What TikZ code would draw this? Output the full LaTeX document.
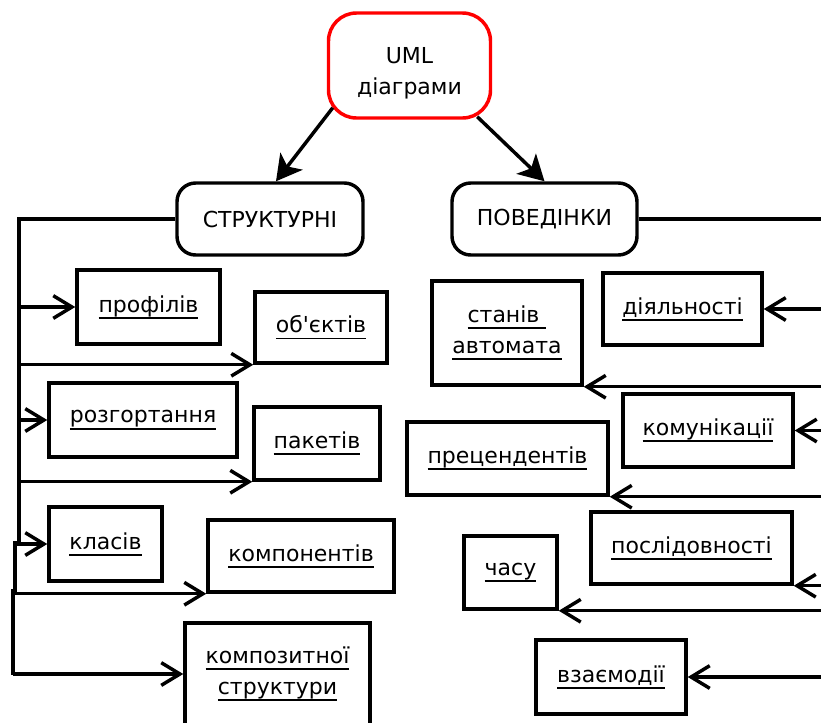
\documentclass[tikz,border=0pt]{standalone}
\usepackage{fontspec}
\setmainfont{DejaVu Sans}[Ligatures=TeXOff]
\usetikzlibrary{arrows.meta,calc}

\newsavebox\lnkbox
\newcommand{\lnk}[1]{\sbox\lnkbox{#1}\rlap{\rule[-5pt]{\wd\lnkbox}{1.4pt}}\usebox\lnkbox}

\tikzset{every picture/.style={line width=0.75pt}}
\tikzset{
	lbl/.style={font=\fontsize{16.5}{23}\selectfont, align=center, inner sep=0pt},
	box/.style={lbl, draw, rectangle, line width=2.6pt},
	rbox/.style={box, rounded corners=14pt},
	wire/.style={line width=2.6pt},
	branch/.style={wire, -{Straight Barb[length=14pt,width=17pt]}},
	toparrow/.style={wire, -{Stealth[length=19pt,width=21pt,inset=5pt]}}
}

\begin{document}
\begin{tikzpicture}[x=0.75pt,y=0.75pt,yscale=-1,xscale=1]
	\clip (0,0) rectangle (821,722);

	%Shape: Rounded Rect
	\node[rbox, draw=red, rounded corners=21pt, minimum width=121.5pt, minimum height=78.75pt] (uml) at (409.5,65.5) {\rule{0pt}{24pt}UML\\діаграми};
	%Shape: Rounded Rect
	\node[rbox, minimum width=139.5pt, minimum height=54pt] (str) at (270,219) {СТРУКТУРНІ};
	%Shape: Rounded Rect
	\node[rbox, minimum width=138.75pt, minimum height=54pt] (pov) at (544.5,219) {ПОВЕДІНКИ};

	%Shape: Rectangle
	\node[box, minimum width=107.25pt, minimum height=55.5pt] (prof) at (148.5,307) {\lnk{профілів}};
	%Shape: Rectangle
	\node[box, minimum width=99pt, minimum height=53.25pt] (obj) at (321,327.5) {\lnk{об'єктів}};
	%Shape: Rectangle
	\node[box, minimum width=141pt, minimum height=55.5pt] (rozg) at (143,420) {\lnk{розгортання}};
	%Shape: Rectangle
	\node[box, minimum width=94.5pt, minimum height=54.75pt] (pak) at (317,443.5) {\lnk{пакетів}};
	%Shape: Rectangle
	\node[box, minimum width=84.75pt, minimum height=55.5pt] (klas) at (105.5,544) {\lnk{класів}};
	%Shape: Rectangle
	\node[box, minimum width=139.5pt, minimum height=54pt] (komp) at (301,556) {\lnk{компонентів}};
	%Shape: Rectangle
	\node[box, minimum width=138.75pt, minimum height=76.5pt] (kstr) at (277.5,674) {\lnk{композитної}\\\lnk{структури}};

	%Shape: Rectangle
	\node[box, minimum width=119.25pt, minimum height=54pt] (diyal) at (682.5,309) {\lnk{діяльності}};
	%Shape: Rectangle
	\node[box, minimum width=112.5pt, minimum height=78pt] (stan) at (507,333) {\lnk{станів }\\\lnk{автомата}};
	%Shape: Rectangle
	\node[box, minimum width=127.5pt, minimum height=54.75pt] (komun) at (708,430.5) {\lnk{комунікації}};
	%Shape: Rectangle
	\node[box, minimum width=150.75pt, minimum height=54.75pt] (prec) at (507.5,458.5) {\lnk{прецендентів}};
	%Shape: Rectangle
	\node[box, minimum width=150.75pt, minimum height=54pt] (posl) at (691.5,548) {\lnk{послідовності}};
	%Shape: Rectangle
	\node[box, minimum width=69.75pt, minimum height=54.75pt] (chas) at (510.5,572.5) {\lnk{часу}};
	%Shape: Rectangle
	\node[box, minimum width=112.5pt, minimum height=55.5pt] (vzaem) at (611,677) {\lnk{взаємодії}};

	%Straight Lines
	\coordinate (umlL) at ($(uml.south west)+(6,-12)$);
	\coordinate (umlR) at ($(uml.south east)+(-15,-3)$);
	\draw[toparrow] (umlL) -- ($(str.north)+(6,0)$);
	\draw[toparrow] (umlR) -- (pov.north);

	%Straight Lines
	\coordinate (tl1) at (19,219);
	\coordinate (tl2) at (19,543);
	\coordinate (tl3) at (15,543);
	\coordinate (tl4) at (15,591);
	\coordinate (tl5) at (13,591);
	\coordinate (tl6) at (13,675);
	\draw[wire] (str.west) -- (tl1) -- (tl2) -- (tl3) -- (tl4) -- (tl5) -- (tl6);
	\draw[branch] (prof.west -| tl1) -- (prof.west);
	\draw[branch] (obj.south west -| tl1) -- (obj.south west);
	\draw[branch] (rozg.west -| tl1) -- (rozg.west);
	\draw[branch] (pak.south west -| tl1) -- (pak.south west);
	\draw[branch] (klas.west -| tl3) -- (klas.west);
	\draw[branch] (komp.south west -| tl5) -- (komp.south west);
	\draw[branch] (kstr.west -| tl6) -- (kstr.west);

	%Straight Lines
	\coordinate (tr1) at (822.5,219);
	\coordinate (tr2) at (822.5,677);
	\draw[wire] (pov.east) -- (tr1) -- (tr2);
	\draw[branch] (diyal.east -| tr1) -- (diyal.east);
	\draw[branch] (stan.south east -| tr1) -- (stan.south east);
	\draw[branch] (komun.east -| tr1) -- (komun.east);
	\draw[branch] (prec.south east -| tr1) -- (prec.south east);
	\draw[branch] (posl.south east -| tr1) -- (posl.south east);
	\draw[branch] (chas.south east -| tr1) -- (chas.south east);
	\draw[branch] (vzaem.east -| tr1) -- (vzaem.east);

\end{tikzpicture}
\end{document}
